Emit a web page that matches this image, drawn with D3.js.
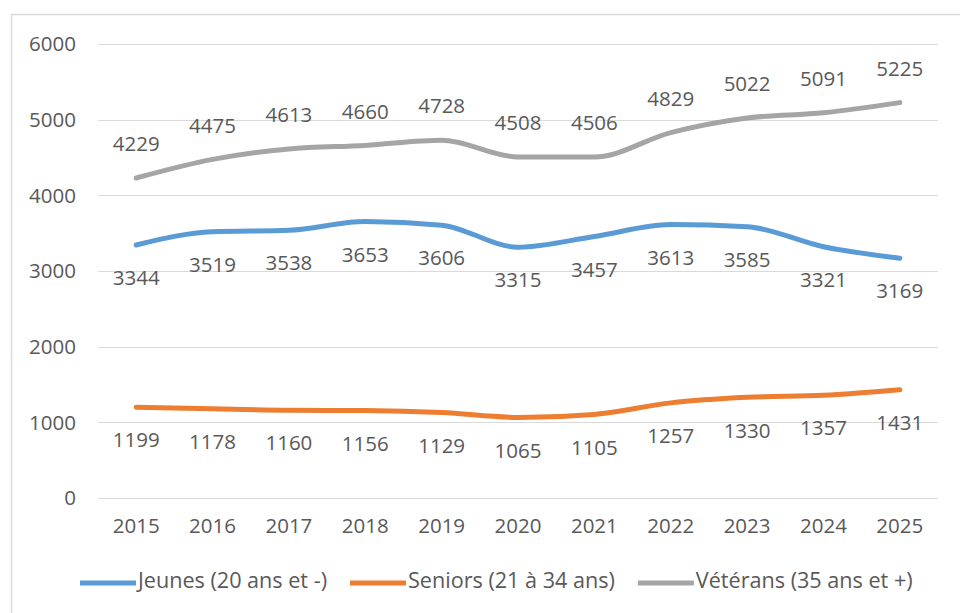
<html>
<head>
<style>
  body { margin: 0; background: #fff; }
  text { font-family: "Open Sans", sans-serif; fill: #595959; }
</style>
</head>
<body>
<div id="chart"></div>
<script src="https://cdn.jsdelivr.net/npm/d3@7"></script>
<script>
var years = ["2015","2016","2017","2018","2019","2020","2021","2022","2023","2024","2025"];
var jeunes = [3344, 3519, 3538, 3653, 3606, 3315, 3457, 3613, 3585, 3321, 3169];
var seniors = [1199, 1178, 1160, 1156, 1129, 1065, 1105, 1257, 1330, 1357, 1431];
var veterans = [4229, 4475, 4613, 4660, 4728, 4508, 4506, 4829, 5022, 5091, 5225];
var yTicks = [0, 1000, 2000, 3000, 4000, 5000, 6000];

var series = [
  {name: "Jeunes (20 ans et -)", values: jeunes, color: "#5b9bd5", pos: "below"},
  {name: "Seniors (21 à 34 ans)", values: seniors, color: "#ed7d31", pos: "below"},
  {name: "Vétérans (35 ans et +)", values: veterans, color: "#a5a5a5", pos: "above"}
];

var width = 960, height = 613;
var svg = d3.select("#chart").append("svg")
  .attr("width", width).attr("height", height);

// chart border
svg.append("rect")
  .attr("x", 11.5).attr("y", 14.5)
  .attr("width", 960).attr("height", 620)
  .attr("fill", "none").attr("stroke", "#d9d9d9").attr("stroke-width", 1.5);

var x = d3.scaleBand().domain(years).range([98, 938]);
var y = d3.scaleLinear().domain([0, 6000]).range([498, 44]);
var fs = "20.5px";

// gridlines
svg.append("g")
  .selectAll("line")
  .data(yTicks)
  .join("line")
    .attr("x1", 98).attr("x2", 938)
    .attr("y1", d => Math.round(y(d)) + 0.5)
    .attr("y2", d => Math.round(y(d)) + 0.5)
    .attr("stroke", "#d9d9d9").attr("stroke-width", 1);

// y labels
svg.append("g")
  .selectAll("text")
  .data(yTicks)
  .join("text")
    .attr("x", 76)
    .attr("y", d => y(d))
    .attr("dy", "0.35em")
    .attr("text-anchor", "end")
    .style("font-size", fs)
    .text(d => d);

// x labels
svg.append("g")
  .selectAll("text")
  .data(years)
  .join("text")
    .attr("x", d => x(d) + x.bandwidth() / 2)
    .attr("y", 526)
    .attr("dy", "0.35em")
    .attr("text-anchor", "middle")
    .style("font-size", fs)
    .text(d => d);

var line = d3.line()
  .x((d, i) => x(years[i]) + x.bandwidth() / 2)
  .y(d => y(d))
  .curve(d3.curveMonotoneX);

series.forEach(function(s) {
  svg.append("path")
    .attr("d", line(s.values))
    .attr("fill", "none")
    .attr("stroke", s.color)
    .attr("stroke-width", 5)
    .attr("stroke-linecap", "round")
    .attr("stroke-linejoin", "round");

  svg.append("g")
    .selectAll("text")
    .data(s.values)
    .join("text")
      .attr("x", (d, i) => x(years[i]) + x.bandwidth() / 2)
      .attr("y", d => y(d) + (s.pos === "above" ? -34 : 33))
      .attr("dy", "0.35em")
      .attr("text-anchor", "middle")
      .style("font-size", fs)
      .text(d => d);
});

// legend
var legend = svg.append("g");
var lx = 80;
series.forEach(function(s) {
  legend.append("line")
    .attr("x1", lx).attr("x2", lx + 56)
    .attr("y1", 583).attr("y2", 583)
    .attr("stroke", s.color).attr("stroke-width", 5);
  var t = legend.append("text")
    .attr("x", lx + 58)
    .attr("y", 580)
    .attr("dy", "0.35em")
    .style("font-size", "21.6px")
    .text(s.name);
  lx += 58 + t.node().getComputedTextLength() + 23;
});
</script>
</body>
</html>
